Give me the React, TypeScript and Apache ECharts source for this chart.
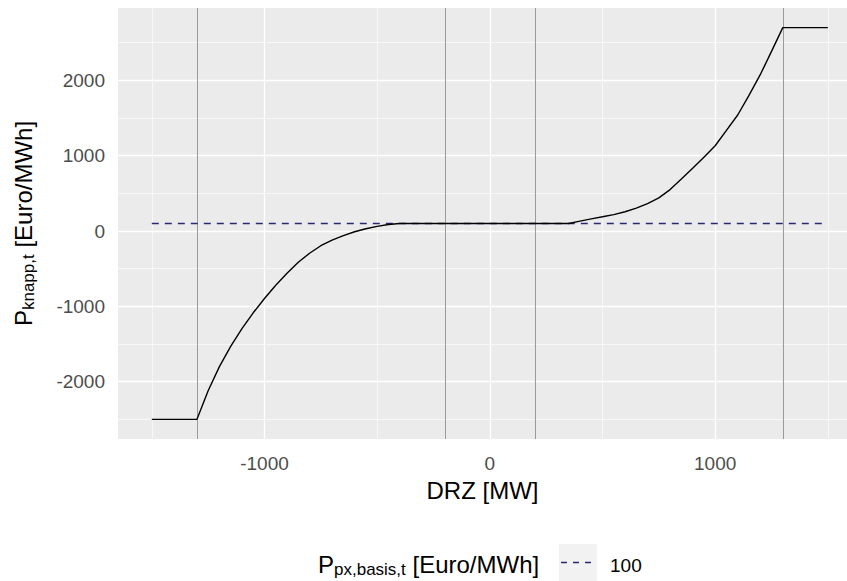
import React, { useEffect, useRef } from 'react';
import * as echarts from 'echarts';

// DRZ [MW] sample positions and the read-off P_knapp,t [Euro/MWh]
const drz = [
  -1500, -1450, -1400, -1350, -1300, -1250, -1200, -1150, -1100, -1050,
  -1000, -950, -900, -850, -800, -750, -700, -650, -600, -550,
  -500, -450, -400, -350, -300, -250, -200, -150, -100, -50,
  0, 50, 100, 150, 200, 250, 300, 350, 400, 450,
  500, 550, 600, 650, 700, 750, 800, 850, 900, 950,
  1000, 1050, 1100, 1150, 1200, 1250, 1300, 1350, 1400, 1450, 1500,
];
const price = [
  -2500, -2500, -2500, -2500, -2500, -2120, -1800, -1530, -1295, -1085,
  -895, -720, -560, -415, -295, -195, -120, -60, -10, 30,
  62, 86, 100, 100, 100, 100, 100, 100, 100, 100,
  100, 100, 100, 100, 100, 100, 100, 100, 132, 162,
  189, 218, 256, 305, 365, 440, 550, 690, 832, 980,
  1132, 1335, 1540, 1800, 2075, 2385, 2700, 2700, 2700, 2700, 2700,
];

const basisPrice = 100;
const basisRange = [-1500, 1500];
const boundaryLines = [-1300, -200, 200, 1300];

const xTicks = [-1000, 0, 1000];
const xMinor = [-1500, -500, 500, 1500];
const yTicks = [-2000, -1000, 0, 1000, 2000];
const yMinor = [-2500, -1500, -500, 500, 1500, 2500];

const legendLabel = '100';

const FONT = '"Liberation Sans", Arial, Helvetica, sans-serif';
const DASH_COLOR = '#2A2A72';

export default function App() {
  const ref = useRef<HTMLDivElement>(null);

  useEffect(() => {
    document.body.style.margin = '0';
    const chart = echarts.init(ref.current as HTMLDivElement, null, { renderer: 'svg' });

    const gl = (axis: string, v: number, w: number, color = '#FFFFFF') => ({
      [axis]: v,
      lineStyle: { color, width: w, type: 'solid' },
    });

    const richTitle = () => ({
      p: { fontSize: 24, lineHeight: 28, fontFamily: FONT, fill: '#000000' },
      s: { fontSize: 17, lineHeight: 12, verticalAlign: 'bottom', fontFamily: FONT, fill: '#000000' },
      n: { fontSize: 24, lineHeight: 28, fontFamily: FONT, fill: '#000000' },
    });

    const plain = (v: number) => String(v);

    const option: any = {
      animation: false,
      backgroundColor: '#FFFFFF',
      grid: {
        left: 118, top: 8, width: 729, height: 431,
        show: true, backgroundColor: '#EBEBEB', borderWidth: 0, containLabel: false,
      },
      xAxis: {
        type: 'value', min: -1650, max: 1585,
        axisLine: { show: false },
        axisTick: { show: true, customValues: xTicks, length: 5, lineStyle: { color: '#333333', width: 1 } },
        axisLabel: { customValues: xTicks, formatter: plain, color: '#4D4D4D', fontSize: 19, fontFamily: FONT, margin: 15 },
        splitLine: { show: false },
        name: 'DRZ [MW]', nameLocation: 'middle', nameGap: 39,
        nameTextStyle: { fontSize: 24, color: '#000000', fontFamily: FONT },
      },
      yAxis: {
        type: 'value', min: -2760, max: 2960,
        axisLine: { show: false },
        axisTick: { show: true, customValues: yTicks, length: 5, lineStyle: { color: '#333333', width: 1 } },
        axisLabel: { customValues: yTicks, formatter: plain, color: '#4D4D4D', fontSize: 19, fontFamily: FONT, margin: 13 },
        splitLine: { show: false },
      },
      graphic: [
        {
          type: 'text', x: 23, y: 223.5, rotation: Math.PI / 2,
          style: {
            text: '{p|P}{s|knapp,t}{n| [Euro/MWh]}',
            rich: richTitle(),
            align: 'center', verticalAlign: 'middle',
          },
        },
        {
          type: 'text', x: 318, y: 564,
          style: {
            text: '{p|P}{s|px,basis,t}{n| [Euro/MWh]}',
            rich: richTitle(),
            align: 'left', verticalAlign: 'middle',
          },
        },
        { type: 'rect', shape: { x: 559, y: 544, width: 38, height: 37 }, style: { fill: '#F2F2F2' } },
        {
          type: 'line', shape: { x1: 561, y1: 562.5, x2: 595, y2: 562.5 },
          style: { stroke: DASH_COLOR, lineWidth: 1.3, lineDash: [6, 6] },
        },
        {
          type: 'text', x: 610, y: 565,
          style: { text: legendLabel, fontSize: 19, fontFamily: FONT, fill: '#000000', align: 'left', verticalAlign: 'middle' },
        },
      ],
      series: [
        {
          type: 'line', name: 'grid', data: [], silent: true, z: 1,
          markLine: {
            z: 1, silent: true, symbol: ['none', 'none'], label: { show: false }, animation: false,
            data: [
              ...xMinor.map((v) => gl('xAxis', v, 0.6)),
              ...yMinor.map((v) => gl('yAxis', v, 0.6)),
              ...xTicks.map((v) => gl('xAxis', v, 1.3)),
              ...yTicks.map((v) => gl('yAxis', v, 1.3)),
            ],
          },
        },
        {
          type: 'line', name: 'boundaries', data: [], silent: true, z: 2,
          markLine: {
            z: 2, silent: true, symbol: ['none', 'none'], label: { show: false }, animation: false,
            data: boundaryLines.map((v) => gl('xAxis', v, 1, '#9A9A9A')),
          },
        },
        {
          type: 'line', name: legendLabel, z: 3, silent: true,
          data: basisRange.map((x) => [x, basisPrice]),
          symbol: 'none', showSymbol: false,
          lineStyle: { color: DASH_COLOR, width: 1.3, type: [7, 6] },
        },
        {
          type: 'line', name: 'P_knapp', z: 4, silent: true,
          data: drz.map((x, i) => [x, price[i]]),
          symbol: 'none', showSymbol: false,
          lineStyle: { color: '#000000', width: 1.4 },
        },
      ],
    };

    chart.setOption(option);
    return () => chart.dispose();
  }, []);

  return <div ref={ref} style={{ width: 847, height: 581 }} />;
}
